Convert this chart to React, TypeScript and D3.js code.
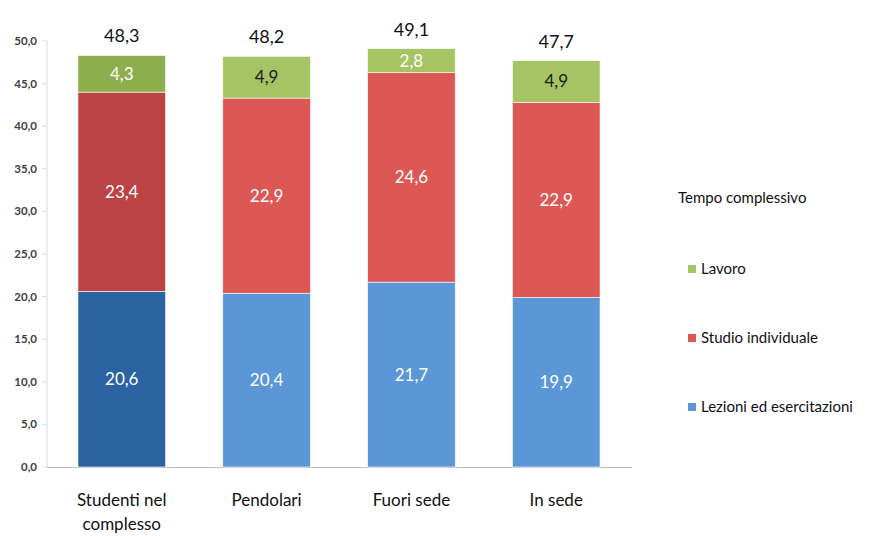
import React from "react";
import * as d3 from "d3";

const categories = ["Studenti nel complesso", "Pendolari", "Fuori sede", "In sede"];
const lezioni = [20.6, 20.4, 21.7, 19.9];
const studio = [23.4, 22.9, 24.6, 22.9];
const lavoro = [4.3, 4.9, 2.8, 4.9];
const totals = [48.3, 48.2, 49.1, 47.7];
const yTicks = [0, 5, 10, 15, 20, 25, 30, 35, 40, 45, 50];
const seriesNames = ["Lezioni ed esercitazioni", "Studio individuale", "Lavoro"];
const legendTitle = "Tempo complessivo";

const colorsFirst = ["#2b62a2", "#b94443", "#8eae4e"];
const colorsOther = ["#5b97d6", "#dc5855", "#a6c463"];
const lavoroLabelColor = ["#ffffff", "#1a1a1a", "#ffffff", "#1a1a1a"];

const W = 871, H = 536;
const font = "Lato, 'Open Sans', sans-serif";

export default function App() {
  const x = d3.scaleBand<string>().domain(categories).range([49, 629]).paddingInner(0.395).paddingOuter(0.2);
  const y = d3.scaleLinear().domain([0, 50]).range([467, 41]);
  const series = [lezioni, studio, lavoro];
  const fmt = (v: number) => v.toFixed(1).replace(".", ",");

  return (
    <svg width={W} height={H} style={{ position: "absolute", left: 0, top: 0, background: "#fff" }}>
      <line x1={47} x2={47} y1={41} y2={467} stroke="#d9d9d9" strokeWidth={1} />
      <line x1={47} x2={632} y1={467.5} y2={467.5} stroke="#bfbfbf" strokeWidth={1} />
      {yTicks.map((t) => (
        <g key={t}>
          <line x1={42} x2={47} y1={y(t)} y2={y(t)} stroke="#d9d9d9" />
          <text x={37} y={y(t)} dy="0.35em" textAnchor="end" fontFamily={font} fontSize={11.5} fontWeight={700} fill="#404040">
            {fmt(t)}
          </text>
        </g>
      ))}
      {categories.map((c, i) => {
        const bx = x(c)!;
        const bw = x.bandwidth();
        const cols = i === 0 ? colorsFirst : colorsOther;
        let acc = 0;
        return (
          <g key={c}>
            {series.map((s, k) => {
              const v0 = acc;
              const v1 = acc + s[i];
              acc = v1;
              const yTop = y(v1);
              const yBot = y(v0);
              const labelColor = k === 2 ? lavoroLabelColor[i] : "#ffffff";
              return (
                <g key={k}>
                  <rect x={bx} y={yTop} width={bw} height={yBot - yTop} fill={cols[k]} stroke="#ffffff" strokeWidth={0.6} />
                  <text x={bx + bw / 2} y={(yTop + yBot) / 2} dy="0.35em" textAnchor="middle" fontFamily={font} fontSize={17} fill={labelColor}>
                    {fmt(s[i])}
                  </text>
                </g>
              );
            })}
            <text x={bx + bw / 2} y={y(totals[i]) - 13} textAnchor="middle" fontFamily={font} fontSize={18} fill="#111">
              {fmt(totals[i])}
            </text>
            {(c === "Studenti nel complesso" ? ["Studenti nel", "complesso"] : [c]).map((ln, j) => (
              <text key={j} x={bx + bw / 2} y={506 + j * 24} textAnchor="middle" fontFamily={font} fontSize={17} fill="#111">
                {ln}
              </text>
            ))}
          </g>
        );
      })}
      <text x={678} y={203} fontFamily={font} fontSize={15} fill="#111">{legendTitle}</text>
      {[2, 1, 0].map((k, j) => (
        <g key={k}>
          <rect x={688} y={265 + j * 69} width={8} height={8} fill={colorsOther[k]} />
          <text x={701} y={274 + j * 69} fontFamily={font} fontSize={15} fill="#111">{seriesNames[k]}</text>
        </g>
      ))}
    </svg>
  );
}
